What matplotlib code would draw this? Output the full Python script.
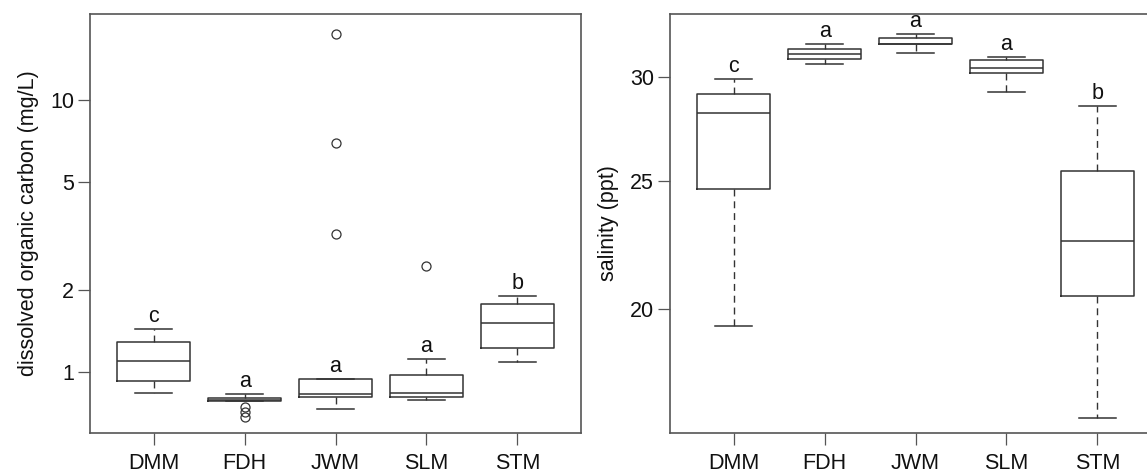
import matplotlib
matplotlib.use('Agg')
import matplotlib.pyplot as plt
from matplotlib.ticker import FixedLocator, FixedFormatter, NullLocator

plt.rcParams['font.family'] = ['Liberation Sans', 'DejaVu Sans']

sites = ['DMM', 'FDH', 'JWM', 'SLM', 'STM']

# dissolved organic carbon (mg/L)
doc_whislo = [0.84, 0.78, 0.73, 0.79, 1.085]
doc_q1 = [0.93, 0.78, 0.81, 0.81, 1.23]
doc_med = [1.10, 0.79, 0.83, 0.84, 1.51]
doc_q3 = [1.29, 0.80, 0.94, 0.975, 1.78]
doc_whishi = [1.44, 0.83, 0.94, 1.12, 1.90]
doc_fliers = [[], [0.745, 0.715, 0.681], [17.5, 6.97, 3.22], [2.45], []]
doc_letters = ['c', 'a', 'a', 'a', 'b']

# salinity (ppt)
sal_whislo = [19.4, 30.70, 31.31, 29.21, 16.52]
sal_q1 = [24.68, 30.94, 31.77, 30.19, 20.46]
sal_med = [28.18, 31.26, 31.80, 30.49, 22.54]
sal_q3 = [29.12, 31.52, 32.13, 30.92, 25.44]
sal_whishi = [29.9, 31.77, 32.37, 31.06, 28.51]
sal_fliers = [[], [], [], [], []]
sal_letters = ['c', 'a', 'a', 'a', 'b']

line_col = '#333333'
fs = 15.5


def make_stats(lo, q1, med, q3, hi, fl):
    out = []
    for i in range(len(sites)):
        out.append({'whislo': lo[i], 'q1': q1[i], 'med': med[i], 'q3': q3[i],
                    'whishi': hi[i], 'fliers': fl[i], 'label': sites[i]})
    return out


def draw_panel(ax, stats, letters, ylab, ylim, ticks):
    ax.bxp(stats, positions=range(1, 6), widths=0.8, showfliers=True,
           boxprops=dict(color=line_col, lw=1.1),
           medianprops=dict(color=line_col, lw=1.1),
           whiskerprops=dict(color=line_col, lw=1.0, linestyle=(0, (5, 3.5))),
           capprops=dict(color=line_col, lw=1.1),
           flierprops=dict(marker='o', markersize=6.5, markerfacecolor='none',
                           markeredgecolor=line_col, markeredgewidth=0.9),
           capwidths=0.4)
    for i, s in enumerate(stats):
        ax.annotate(letters[i], (i + 1, s['whishi']), xytext=(0, 5),
                    textcoords='offset points', ha='center', va='baseline',
                    fontsize=fs, color='#111111')
    ax.set_yscale('log')
    ax.set_ylim(*ylim)
    ax.set_xlim(0.3, 5.7)
    ax.yaxis.set_major_locator(FixedLocator(ticks))
    ax.yaxis.set_major_formatter(FixedFormatter([str(t) for t in ticks]))
    ax.yaxis.set_minor_locator(NullLocator())
    ax.set_xticks(range(1, 6))
    ax.set_xticklabels(sites)
    ax.tick_params(axis='both', length=8.5, width=0.9, color='#555555',
                   labelsize=fs, labelcolor='#111111')
    ax.tick_params(axis='x', pad=6)
    ax.tick_params(axis='y', pad=3)
    ax.set_ylabel(ylab, fontsize=fs, color='#111111', labelpad=8)
    for sp in ax.spines.values():
        sp.set_color('#555555')
        sp.set_linewidth(1.2)


fig = plt.figure(figsize=(11.47, 4.71), dpi=100)
ax1 = fig.add_axes([90 / 1147, 1 - 433 / 471, 491 / 1147, 419 / 471])
ax2 = fig.add_axes([670 / 1147, 1 - 433 / 471, 491 / 1147, 419 / 471])

draw_panel(ax1, make_stats(doc_whislo, doc_q1, doc_med, doc_q3, doc_whishi, doc_fliers),
           doc_letters, 'dissolved organic carbon (mg/L)', (0.597, 20.7), [1, 2, 5, 10])
draw_panel(ax2, make_stats(sal_whislo, sal_q1, sal_med, sal_q3, sal_whishi, sal_fliers),
           sal_letters, 'salinity (ppt)', (16.1, 33.5), [20, 25, 30])

fig.savefig('out.png', dpi=100)
